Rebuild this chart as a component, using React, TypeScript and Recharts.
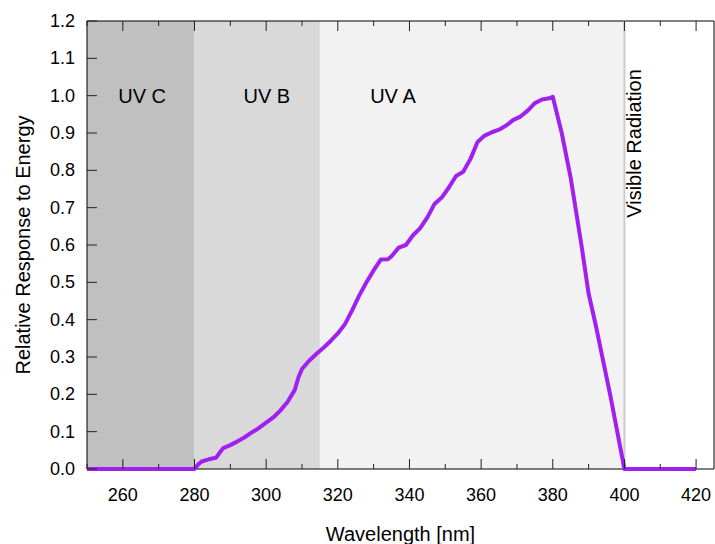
import {
  Line,
  LineChart,
  ReferenceArea,
  ReferenceDot,
  ReferenceLine,
  XAxis,
  YAxis,
} from 'recharts';

const wavelengths = [
  250, 260, 270, 280, 281, 282, 284, 286, 288, 290, 292, 294, 296, 298, 300, 302, 304, 306, 308,
  309, 310, 312, 314, 316, 318, 320, 322, 324, 326, 328, 330, 332, 334, 335, 337, 339, 341, 343,
  345, 347, 349, 351, 353, 355, 357, 359, 361, 363, 365, 367, 369, 371, 373, 375, 377, 379, 380,
  382.5, 385, 388, 390, 392, 396, 400, 410, 420,
];
const response = [
  0, 0, 0, 0, 0.012, 0.02, 0.026, 0.03, 0.056, 0.064, 0.074, 0.085, 0.098, 0.11, 0.124, 0.138,
  0.157, 0.18, 0.212, 0.245, 0.268, 0.29, 0.308, 0.325, 0.343, 0.363, 0.388, 0.425, 0.465, 0.5,
  0.532, 0.561, 0.562, 0.57, 0.593, 0.6, 0.626, 0.645, 0.674, 0.71, 0.727, 0.754, 0.785, 0.796,
  0.83, 0.876, 0.893, 0.902, 0.909, 0.92, 0.935, 0.944, 0.96, 0.98, 0.99, 0.993, 0.997, 0.9, 0.78,
  0.6, 0.47, 0.385, 0.2, 0, 0, 0,
];

const xTicks = [250, 260, 270, 280, 290, 300, 310, 320, 330, 340, 350, 360, 370, 380, 390, 400, 410, 420];
const yTicks = [0, 0.1, 0.2, 0.3, 0.4, 0.5, 0.6, 0.7, 0.8, 0.9, 1.0, 1.1, 1.2];

const bands = [
  { name: 'UV C', from: 250, to: 280, labelX: 265.4, color: '#c0c0c0' },
  { name: 'UV B', from: 280, to: 315, labelX: 300.2, color: '#d9d9d9' },
  { name: 'UV A', from: 315, to: 400, labelX: 335.4, color: '#f2f2f2' },
];

const data = wavelengths.map((w, i) => ({ w, r: response[i] }));

const FONT = '"Liberation Sans", Arial, sans-serif';
const TICK_COLOR = '#222';

const isMajor = (v: number) => v % 20 === 0;

function BottomTick({ x, y, payload }: any) {
  const v = payload.value;
  return (
    <g>
      <line x1={x} x2={x} y1={y} y2={y - (isMajor(v) ? 10 : 5)} stroke={TICK_COLOR} />
      {isMajor(v) && (
        <text x={x} y={y + 26} textAnchor="middle" dominantBaseline="central" fontSize={18} fontFamily={FONT} fill="#000">
          {v}
        </text>
      )}
    </g>
  );
}

function TopTick({ x, y, payload }: any) {
  const v = payload.value;
  return <line x1={x} x2={x} y1={y} y2={y + (isMajor(v) ? 10 : 5)} stroke={TICK_COLOR} />;
}

function LeftTick({ x, y, payload }: any) {
  return (
    <g>
      <line x1={x} x2={x + 10} y1={y} y2={y} stroke={TICK_COLOR} />
      <text x={x - 12} y={y} textAnchor="end" dominantBaseline="central" fontSize={18} fontFamily={FONT} fill="#000">
        {Number(payload.value).toFixed(1)}
      </text>
    </g>
  );
}

function RightTick({ x, y }: any) {
  return <line x1={x} x2={x - 10} y1={y} y2={y} stroke={TICK_COLOR} />;
}

const bandLabel = (text: string) => (props: any) => {
  const vb = props.viewBox;
  return (
    <text x={vb.x + vb.width / 2} y={vb.y + vb.height / 2} textAnchor="middle" dominantBaseline="central" fontSize={20} fontFamily={FONT} fill="#000">
      {text}
    </text>
  );
};

const visibleLabel = (props: any) => {
  const vb = props.viewBox;
  const cx = vb.x + vb.width / 2;
  const cy = vb.y + vb.height / 2;
  return (
    <text x={cx} y={cy} transform={`rotate(-90 ${cx} ${cy})`} textAnchor="middle" fontSize={20} fontFamily={FONT} fill="#000">
      Visible Radiation
    </text>
  );
};

const xTitle = (props: any) => {
  const vb = props.viewBox;
  return (
    <text x={vb.x + vb.width / 2} y={vb.y + 72} textAnchor="middle" fontSize={20} fontFamily={FONT} fill="#000">
      Wavelength [nm]
    </text>
  );
};

const yTitle = (props: any) => {
  const vb = props.viewBox;
  const cx = 29.5;
  const cy = vb.y + vb.height / 2;
  return (
    <text x={cx} y={cy} transform={`rotate(-90 ${cx} ${cy})`} textAnchor="middle" fontSize={20} fontFamily={FONT} fill="#000">
      Relative Response to Energy
    </text>
  );
};

export default function App() {
  return (
    <>
      <style>{'html, body { margin: 0; padding: 0; overflow: hidden; }'}</style>
      <LineChart width={715} height={544} data={data} margin={{ top: 20, right: 0, bottom: 74, left: 86 }}>
        {bands.map((b) => (
          <ReferenceArea
            key={b.name}
            x1={b.from}
            x2={b.to}
            y1={0}
            y2={1.2}
            fill={b.color}
            fillOpacity={1}
            stroke="none"
          />
        ))}
        <ReferenceLine x={400} stroke="#cccccc" strokeWidth={2} />
        <ReferenceArea x1={250} x2={425} y1={0} y2={1.2} fill="none" stroke="#000" strokeWidth={1} />
        <XAxis
          dataKey="w"
          type="number"
          domain={[250, 425]}
          ticks={xTicks}
          interval={0}
          height={1}
          tickSize={0}
          tickMargin={0}
          axisLine={false}
          tickLine={false}
          tick={<BottomTick />}
          label={xTitle}
        />
        <XAxis
          xAxisId="top"
          orientation="top"
          dataKey="w"
          type="number"
          domain={[250, 425]}
          ticks={xTicks}
          interval={0}
          height={1}
          tickSize={0}
          tickMargin={0}
          axisLine={false}
          tickLine={false}
          tick={<TopTick />}
        />
        <YAxis
          type="number"
          domain={[0, 1.2]}
          ticks={yTicks}
          interval={0}
          width={1}
          tickSize={0}
          tickMargin={0}
          axisLine={false}
          tickLine={false}
          tick={<LeftTick />}
          label={yTitle}
        />
        <YAxis
          yAxisId="right"
          orientation="right"
          type="number"
          domain={[0, 1.2]}
          ticks={yTicks}
          interval={0}
          width={1}
          tickSize={0}
          tickMargin={0}
          axisLine={false}
          tickLine={false}
          tick={<RightTick />}
        />
        {bands.map((b) => (
          <ReferenceDot key={b.name + '-label'} x={b.labelX} y={1.0} r={0} fill="none" stroke="none" label={bandLabel(b.name)} />
        ))}
        <ReferenceDot x={404.6} y={0.872} r={0} fill="none" stroke="none" label={visibleLabel} />
        <Line
          type="linear"
          dataKey="r"
          stroke="#a020f0"
          strokeWidth={4}
          strokeLinejoin="round"
          dot={false}
          activeDot={false}
          isAnimationActive={false}
        />
      </LineChart>
    </>
  );
}
